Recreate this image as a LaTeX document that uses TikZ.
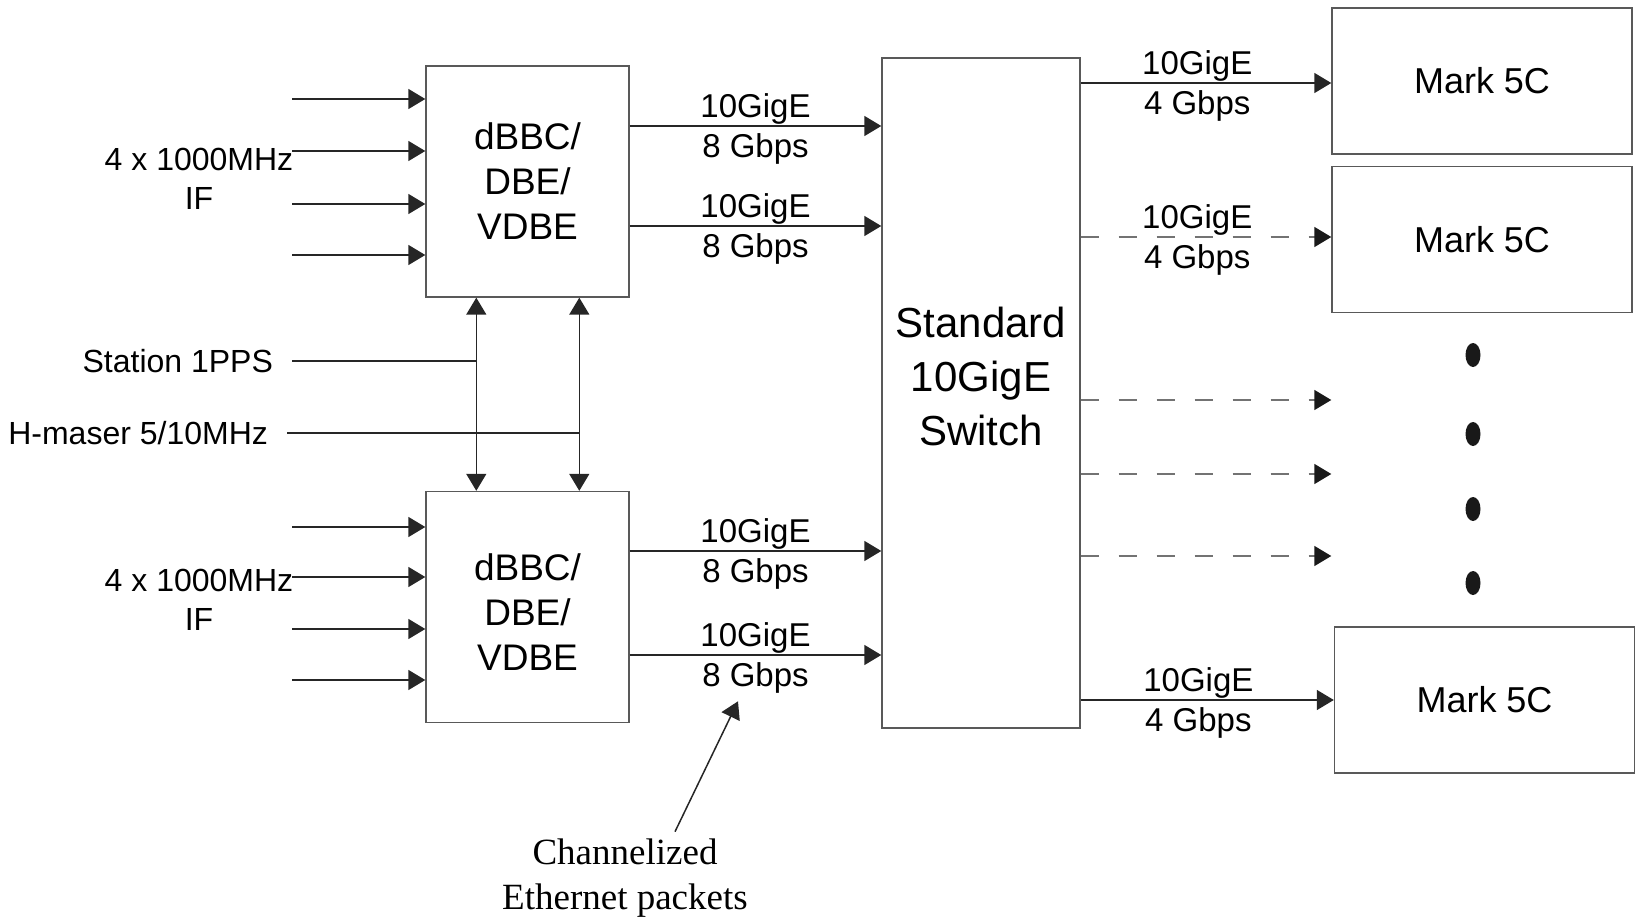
\documentclass[tikz,border=0pt]{standalone}
\usepackage{fontspec}
\setmainfont{Liberation Sans}
\newfontfamily\annfont{Liberation Serif}
\usetikzlibrary{positioning, calc, arrows.meta}

\begin{document}
\begin{tikzpicture}[
    x=0.5pt, y=-0.5pt,
    % Block styles
    dbe/.style={
      rectangle, draw=black!65, line width=0.7pt,
      minimum width=101.5pt, minimum height=115.5pt,
      font=\fontsize{18.5}{22.5}\selectfont, align=center
    },
    switch/.style={
      rectangle, draw=black!65, line width=0.7pt,
      minimum width=99pt, minimum height=335pt
    },
    recorder/.style={
      rectangle, draw=black!65, line width=0.7pt,
      minimum width=150pt, minimum height=73pt,
      font=\fontsize{18}{21}\selectfont
    },
    inlabel/.style={font=\fontsize{16}{19.5}\selectfont, align=center},
    rateup/.style={above, inner sep=0.5pt, font=\fontsize{16.5}{19}\selectfont},
    ratedn/.style={below, inner sep=3.5pt, font=\fontsize{16.5}{19}\selectfont},
    wire/.style={draw=black!85, line width=0.75pt},
    sig/.style={wire, -{Triangle[length=8.5pt,width=10pt]}},
    dsig/.style={draw=black!55, line width=0.75pt, dash pattern=on 9pt off 10pt,
      -{Triangle[length=8.5pt,width=10pt,color=black!90]}},
    both/.style={wire, {Triangle[length=8.5pt,width=10pt]}-{Triangle[length=8.5pt,width=10pt]}},
  ]
  \useasboundingbox (0,0) rectangle (1636,920);

  % === Back ends ===
  \node[dbe] (dbe1) at (527.5,181.5) {dBBC/\\DBE/\\VDBE};
  \node[dbe] (dbe2) at (527.5,607) {};
  \node[font=\fontsize{18.5}{22.5}\selectfont, align=center] (dbe2txt) at ([yshift=-2.5pt]dbe2.center) {dBBC/\\DBE/\\VDBE};

  % === Switch ===
  \node[switch] (sw) at (981,393) {};
  \node[font=\fontsize{21}{27}\selectfont, align=center] (swtxt) at ([yshift=8.5pt]sw.center) {Standard\\10GigE\\Switch};

  % === Recorders ===
  \node[recorder] (mk1) at (1482,81) {Mark 5C};
  \node[recorder] (mk2) at (1482,239.5) {Mark 5C};
  \node[recorder] (mk3) at (1484.5,700) {Mark 5C};

  % IF inputs
  \foreach \y [count=\i] in {99,151,204,255} {
    \coordinate (inA\i) at (292,\y);
    \draw[sig] (inA\i) -- (inA\i -| dbe1.west);
  }
  \foreach \y [count=\i] in {527,577,629,680} {
    \coordinate (inB\i) at (292,\y);
    \draw[sig] (inB\i) -- (inB\i -| dbe2.west);
  }
  \node[inlabel] (if1) at (199,179) {4 x 1000MHz\\IF};
  \node[inlabel] (if2) at (199,600) {4 x 1000MHz\\IF};

  % Timing and reference
  \coordinate (pps) at (292,361);
  \coordinate (href) at (287,433);
  \node[inlabel, left=6pt of pps] (ppslbl) {Station 1PPS};
  \node[inlabel, left=6pt of href] (hreflbl) {H-maser 5/10MHz};
  \coordinate (v1) at ([xshift=25.5pt]dbe1.south west);
  \coordinate (v2) at ([xshift=77pt]dbe1.south west);
  \draw[both] (v1) -- (v1 |- dbe2.north);
  \draw[both] (v2) -- (v2 |- dbe2.north);
  \draw[wire] (pps) -- (pps -| v1);
  \draw[wire] (href) -- (href -| v2);

  % Back end to switch
  \foreach \b/\y [count=\i] in {dbe1/126, dbe1/226, dbe2/551, dbe2/655} {
    \draw[sig] (\b.east |- 0,\y) -- (sw.west |- 0,\y)
      node[midway, rateup] (gb\i) {10GigE}
      node[midway, ratedn] (ra\i) {8 Gbps};
  }

  % Switch to recorders
  \draw[sig] (sw.east |- 0,83) -- (mk1.west |- 0,83)
    node[pos=0.465, rateup] (go1) {10GigE} node[pos=0.465, ratedn] (rb1) {4 Gbps};
  \draw[dsig] (sw.east |- 0,237) -- (mk2.west |- 0,237)
    node[pos=0.465, rateup] (go2) {10GigE} node[pos=0.465, ratedn] (rb2) {4 Gbps};
  \foreach \y in {400,474,556} {
    \draw[dsig] (sw.east |- 0,\y) -- (mk2.west |- 0,\y);
  }
  \draw[sig] (sw.east |- mk3.west) -- (mk3.west)
    node[pos=0.465, rateup] (go3) {10GigE} node[pos=0.465, ratedn] (rb3) {4 Gbps};

  % More recorders
  \foreach \y in {355,434,509,583} {
    \fill[black!90] (1473,\y) ellipse [x radius=3.75pt, y radius=6pt];
  }

  % Annotation
  \node[font=\annfont\fontsize{18.5}{22.5}\selectfont, align=center] (ann) at (625,878) {Channelized\\Ethernet packets};
  \draw[sig] ([xshift=25pt]ann.north) -- ([xshift=-8.75pt]ra4.south);

\end{tikzpicture}
\end{document}
